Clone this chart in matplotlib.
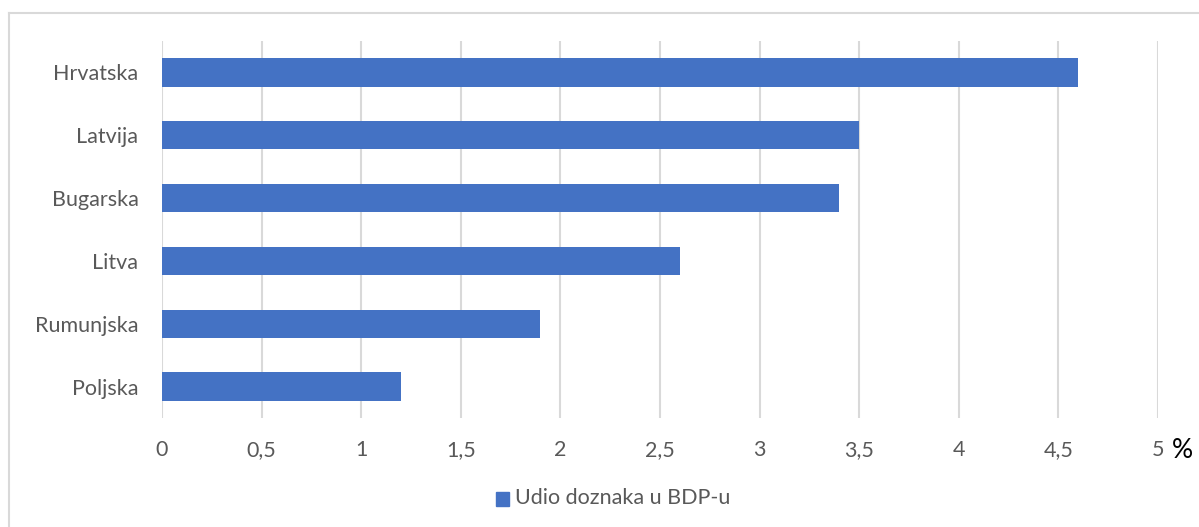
import matplotlib
matplotlib.use("Agg")
import matplotlib.pyplot as plt
from matplotlib.lines import Line2D
from matplotlib.patches import Rectangle

countries = ["Hrvatska", "Latvija", "Bugarska", "Litva", "Rumunjska", "Poljska"]
values = [4.6, 3.5, 3.4, 2.6, 1.9, 1.2]
xticks = [0, 0.5, 1, 1.5, 2, 2.5, 3, 3.5, 4, 4.5, 5]
xtick_labels = ["0", "0,5", "1", "1,5", "2", "2,5", "3", "3,5", "4", "4,5", "5"]
series_name = "Udio doznaka u BDP-u"
unit_label = "%"

plt.rcParams['font.family'] = ['Lato', 'DejaVu Sans']
W, H = 1199, 527
fig = plt.figure(figsize=(W/100, H/100), dpi=100)

bar_color = "#4472C4"
text_color = "#595959"
grid_color = "#D9D9D9"

ax = fig.add_axes([162/W, 1-418/H, (1158-162)/W, (418-41)/H])
n = len(countries)
ypos = list(range(n))[::-1]
ax.barh(ypos, values, height=0.45, color=bar_color, zorder=3)
ax.set_ylim(-0.5, n-0.5)
ax.set_xlim(0, 5)
ax.set_xticks(xticks)
ax.set_xticklabels(xtick_labels)
ax.set_yticks(ypos)
ax.set_yticklabels(countries)
for s in ax.spines.values():
    s.set_visible(False)
ax.tick_params(axis='both', length=0, labelsize=15.5, colors=text_color)
ax.tick_params(axis='x', pad=16)
ax.tick_params(axis='y', pad=17)
ax.grid(axis='x', color=grid_color, linewidth=1.5, zorder=0)
ax.set_axisbelow(True)

fig.text(1172/W, 1-450/H, unit_label, fontsize=19, color="black", va='center', ha='left')

# legend
fig.patches.append(Rectangle((496/W, 1-506/H), 13/W, 14/H, transform=fig.transFigure,
                             color=bar_color))
fig.text(515/W, 1-498/H, series_name, fontsize=15.5, color=text_color, va='center', ha='left')

# chart border (left & top)
fig.add_artist(Line2D([9/W, 9/W], [0, 1-13/H], transform=fig.transFigure, color=grid_color, lw=1.5))
fig.add_artist(Line2D([9/W, 1], [1-13/H, 1-13/H], transform=fig.transFigure, color=grid_color, lw=1.5))

fig.savefig("out.png", dpi=100)
